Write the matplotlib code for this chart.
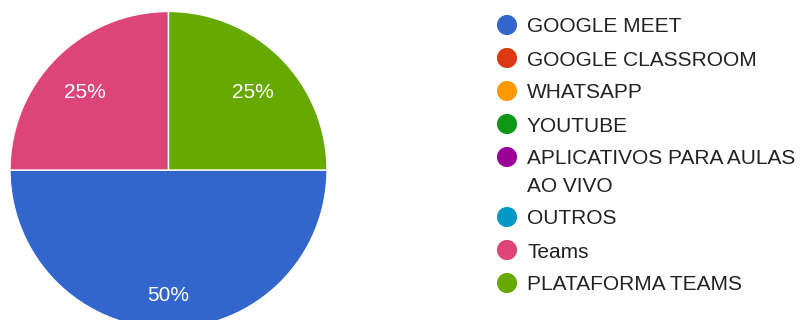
import matplotlib.pyplot as plt

plt.rcParams['font.family'] = ['Liberation Sans', 'DejaVu Sans']

labels = ["GOOGLE MEET", "GOOGLE CLASSROOM", "WHATSAPP", "YOUTUBE",
          "APLICATIVOS PARA AULAS\nAO VIVO", "OUTROS", "Teams", "PLATAFORMA TEAMS"]
values = [2, 0, 0, 0, 0, 0, 1, 1]
colors = ["#3366cc", "#dc3912", "#ff9900", "#109618",
          "#990099", "#0099c6", "#dd4477", "#66aa00"]

W, H = 802, 320
fig = plt.figure(figsize=(W / 100, H / 100), dpi=100)
ax = fig.add_axes([0, 0, 1, 1])


def pct(p):
    return '' if p < 0.5 else '%.0f%%' % p


wedges, texts, autotexts = ax.pie(
    values, colors=colors, startangle=0, counterclock=False,
    center=(168.5, H - 170), radius=158.5, autopct=pct, pctdistance=0.75,
    wedgeprops=dict(edgecolor='white', linewidth=1),
    textprops=dict(color='white', fontsize=15))
for t in autotexts:
    px, py = t.get_position()
    t.set_position((px, py - 6.5))

# pie() resets the limits, so set them afterwards
ax.set_xlim(0, W)
ax.set_ylim(0, H)
ax.set_aspect('equal')
ax.axis('off')

# legend drawn by hand so wrapped entries line up like the original
y = 25
for lab, col in zip(labels, colors):
    ax.scatter([507], [H - y], s=210, color=col, edgecolors='none', clip_on=False)
    for i, line in enumerate(lab.split('\n')):
        ax.text(527, H - y - 7.5 - 27 * i, line, fontsize=15, color='#222222',
                va='baseline')
    y += 33 + 27 * lab.count('\n')

fig.savefig('out.png', dpi=100)
